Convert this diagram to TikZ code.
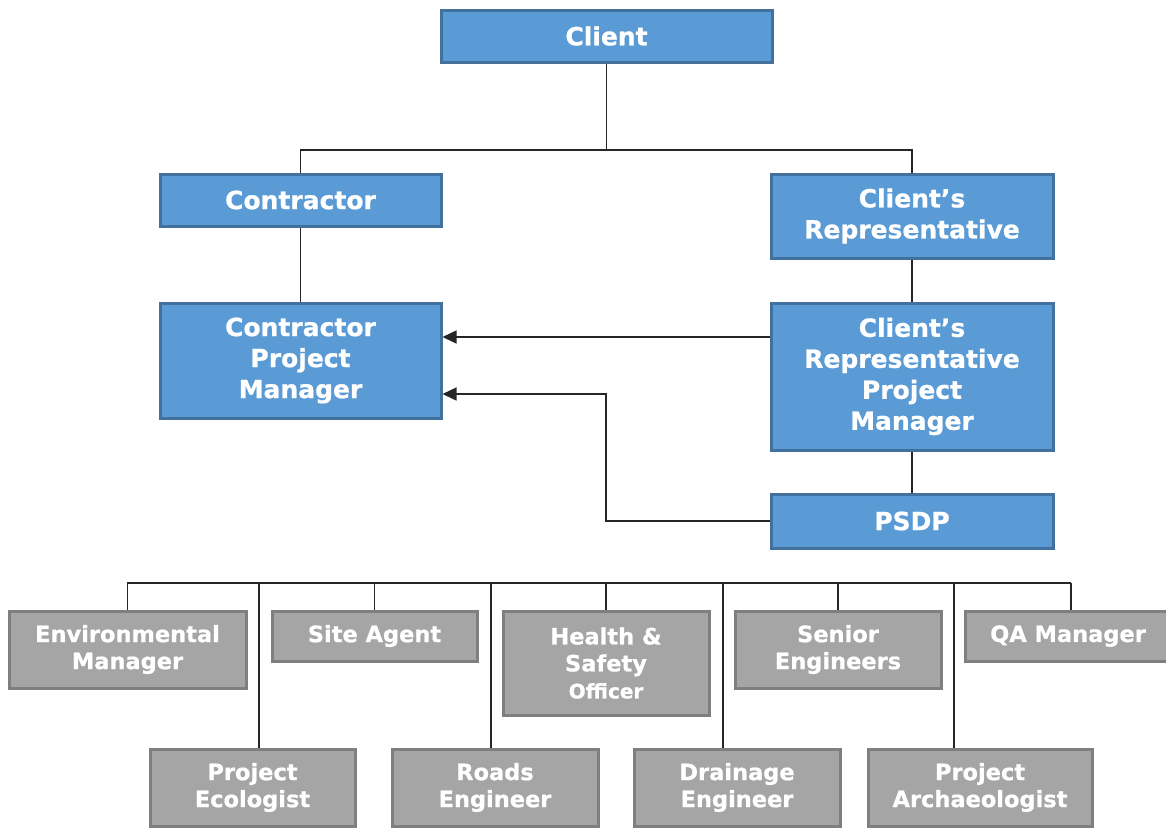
\documentclass[tikz,border=0pt]{standalone}
\usepackage{fontspec}
\setmainfont{DejaVu Sans}[BoldFeatures={FakeBold=0.8}]
\usetikzlibrary{arrows.meta}
\definecolor{bfill}{HTML}{5B9BD5}
\definecolor{bline}{HTML}{41719C}
\definecolor{gfill}{HTML}{A5A5A5}
\definecolor{gline}{HTML}{7F7F7F}
\tikzset{
  box/.style={rectangle, line width=3pt, text=white, align=center, inner sep=0pt},
  bluebox/.style={box, fill=bfill, draw=bline, font=\bfseries\fontsize{25}{31}\selectfont},
  graybox/.style={box, fill=gfill, draw=gline, font=\bfseries\fontsize{22.5}{27}\selectfont},
  conn/.style={line width=1.4pt, draw=black!85},
  arr/.style={conn, -{Triangle[length=14pt,width=13pt]}},
}
\begin{document}
\begin{tikzpicture}[x=1pt,y=-1pt]
\useasboundingbox (0,0) rectangle (1166,828);
% blue boxes
\node[bluebox, minimum width=331, minimum height=52] (client) at (606.5,36) {Client};
\node[bluebox, minimum width=281, minimum height=52] (contr) at (300.5,200) {Contractor};
\node[bluebox, minimum width=282, minimum height=84] (crep) at (912,216) {Client’s\\Representative};
\node[bluebox, minimum width=281, minimum height=115] (cpm) at (300.5,360.5) {Contractor\\Project\\Manager};
\node[bluebox, minimum width=282, minimum height=147] (crpm) at (912,376.5) {Client’s\\Representative\\Project\\Manager};
\node[bluebox, minimum width=282, minimum height=54] (psdp) at (912,521) {PSDP};
% gray boxes
\node[graybox, minimum width=237, minimum height=77] (env) at (127.5,649.5) {Environmental\\Manager};
\node[graybox, minimum width=205, minimum height=50] (site) at (374.5,636) {Site Agent};
\node[graybox, minimum width=206, minimum height=104] (hs) at (606,663) {Health \&\\Safety\\{\fontsize{20}{27}\selectfont Officer}};
\node[graybox, minimum width=206, minimum height=77] (senior) at (838,649.5) {Senior\\Engineers};
\node[graybox, minimum width=206, minimum height=50] (qa) at (1068,636) {QA Manager};
\node[graybox, minimum width=205, minimum height=77] (peco) at (252.5,787.5) {Project\\Ecologist};
\node[graybox, minimum width=206, minimum height=77] (roads) at (495,787.5) {Roads\\Engineer};
\node[graybox, minimum width=206, minimum height=77] (drain) at (737,787.5) {Drainage\\Engineer};
\node[graybox, minimum width=224, minimum height=77] (arch) at (980,787.5) {Project\\Archaeologist};
% top connectors
\coordinate (tbar) at (client.south |- 0,150);
\draw[conn] (client.south) -- (tbar);
\draw[conn] (tbar) -| (contr.north);
\draw[conn] (tbar) -| (crep.north);
\draw[conn] (contr.south) -- (cpm.north);
\draw[conn] (crep.south) -- (crpm.north);
\draw[conn] (crpm.south) -- (psdp.north);
\draw[arr] (crpm.west |- 0,337) -- (cpm.east |- 0,337);
\coordinate (bend) at (606,394);
\draw[arr] (psdp.west) -| (bend) -- (cpm.east |- bend);
% bottom bar
\coordinate (bl) at (127,583);
\coordinate (br) at (1071,583);
\draw[conn] (bl) -- (br);
\draw[conn] (env.north) -- (env.north |- bl);
\draw[conn] (site.north) -- (site.north |- bl);
\draw[conn] (hs.north) -- (hs.north |- bl);
\draw[conn] (senior.north) -- (senior.north |- bl);
\draw[conn] (qa.north -| br) -- (br);
\draw[conn] (peco.north -| 259,0) -- (259,583);
\draw[conn] (roads.north -| 491,0) -- (491,583);
\draw[conn] (drain.north -| 723,0) -- (723,583);
\draw[conn] (arch.north -| 954,0) -- (954,583);
\end{tikzpicture}
\end{document}
